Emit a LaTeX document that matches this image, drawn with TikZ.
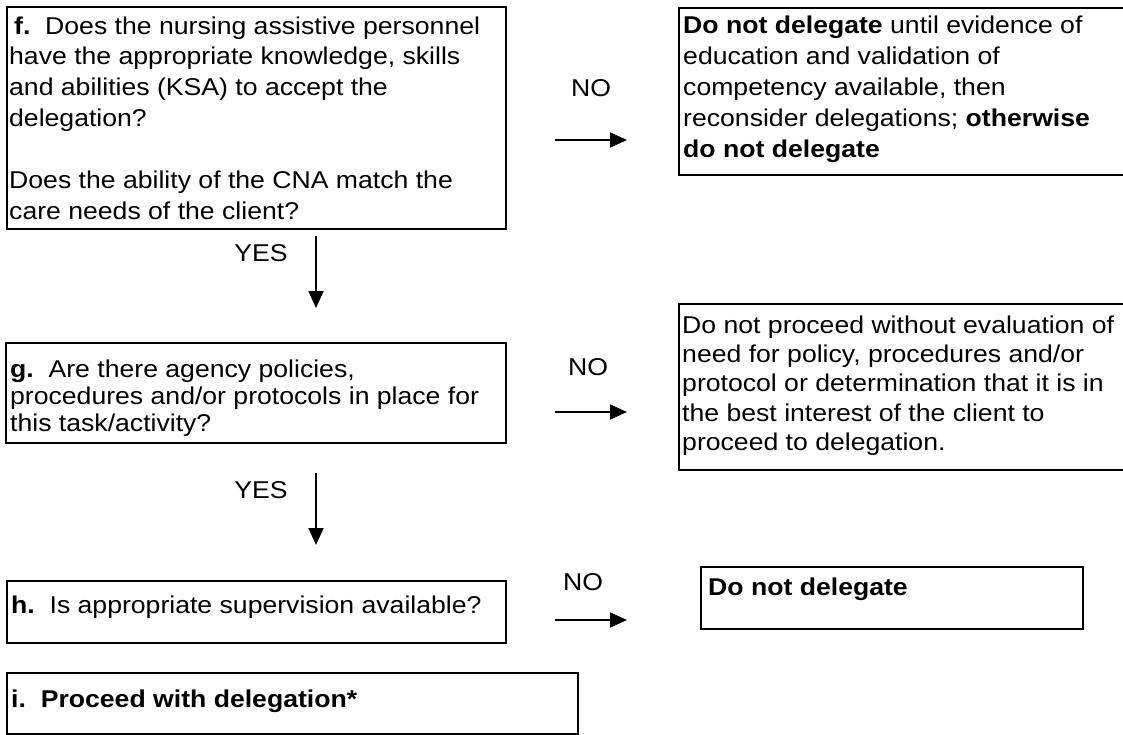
\documentclass[tikz,border=0pt]{standalone}
\usepackage{fontspec}
\setmainfont[FakeStretch=1.095]{Liberation Sans}
\usetikzlibrary{arrows.meta}
\newcommand\fl{\rule{0pt}{20pt}}
\begin{document}
\begin{tikzpicture}[x=1pt,y=-1pt,
  box/.style={draw,line width=2.4pt,inner sep=0pt,anchor=north west},
  txt/.style={inner sep=0pt,anchor=north west,align=left,font=\fontsize{24.3}{31}\selectfont},
  lbl/.style={inner sep=0pt,font=\fontsize{24.3}{31}\selectfont},
  arr/.style={line width=1.7pt,-{Triangle[length=17pt,width=15pt]}}]
\useasboundingbox (0,0) rectangle (1123,734);
\clip (0,0) rectangle (1123,734);
% boxes
\node[box,minimum width=499pt,minimum height=222pt] (f) at (6,6) {};
\node[box,minimum width=452pt,minimum height=167pt] (tr) at (678,7) {};
\node[box,minimum width=500pt,minimum height=100pt] (g) at (5,342) {};
\node[box,minimum width=452pt,minimum height=166pt] (mr) at (678,303) {};
\node[box,minimum width=499pt,minimum height=62pt] (h) at (6,580) {};
\node[box,minimum width=382pt,minimum height=62pt] (dnd) at (700,566) {};
\node[box,minimum width=571pt,minimum height=61pt] (i) at (6,672) {};
% texts
\node[txt,font=\fontsize{24.3}{30.7}\selectfont] (ftxa) at (9,14) {\fl\hspace{5pt}\textbf{f.}~~Does the nursing assistive personnel\\
have the appropriate knowledge, skills\\
and abilities (KSA) to accept the\\
delegation?};
\node[txt,font=\fontsize{24.3}{30.5}\selectfont] (ftxb) at (9,168.5) {\fl Does the ability of the CNA match the\\
care needs of the client?};
\node[txt] (trtx) at (683,13) {\fl\textbf{Do not delegate} until evidence of\\
education and validation of\\
competency available, then\\
reconsider delegations; \textbf{otherwise}\\
\textbf{do not delegate}};
\node[txt,font=\fontsize{24.3}{27}\selectfont] (gtx) at (10,357) {\fl\textbf{g.}~~Are there agency policies,\\
procedures and/or protocols in place for\\
this task/activity?};
\node[txt,font=\fontsize{24.3}{29.3}\selectfont] (mrtx) at (682,313) {\fl Do not proceed without evaluation of\\
need for policy, procedures and/or\\
protocol or determination that it is in\\
the best interest of the client to\\
proceed to delegation.};
\node[txt] (htx) at (11,593) {\fl\textbf{h.}~~Is appropriate supervision available?};
\node[txt] (dndtx) at (708,575) {\fl\textbf{Do not delegate}};
\node[txt] (itx) at (11,687) {\fl\textbf{i.~~Proceed with delegation*}};
% labels
\node[lbl] (no1) at (591,88) {NO};
\node[lbl] (no2) at (588,367) {NO};
\node[lbl] (no3) at (583,582) {NO};
\node[lbl] (yes1) at (261,253) {YES};
\node[lbl] (yes2) at (261,490) {YES};
% arrows
\coordinate (a1s) at (555,140); \coordinate (a1e) at (627,140);
\coordinate (a2s) at (555,412); \coordinate (a2e) at (627,412);
\coordinate (a3s) at (555,620); \coordinate (a3e) at (627,620);
\coordinate (v1s) at (316,236); \coordinate (v1e) at (316,308);
\coordinate (v2s) at (316,473); \coordinate (v2e) at (316,545);
\draw[arr] (a1s) -- (a1e);
\draw[arr] (a2s) -- (a2e);
\draw[arr] (a3s) -- (a3e);
\draw[arr] (v1s) -- (v1e);
\draw[arr] (v2s) -- (v2e);
\end{tikzpicture}
\end{document}
